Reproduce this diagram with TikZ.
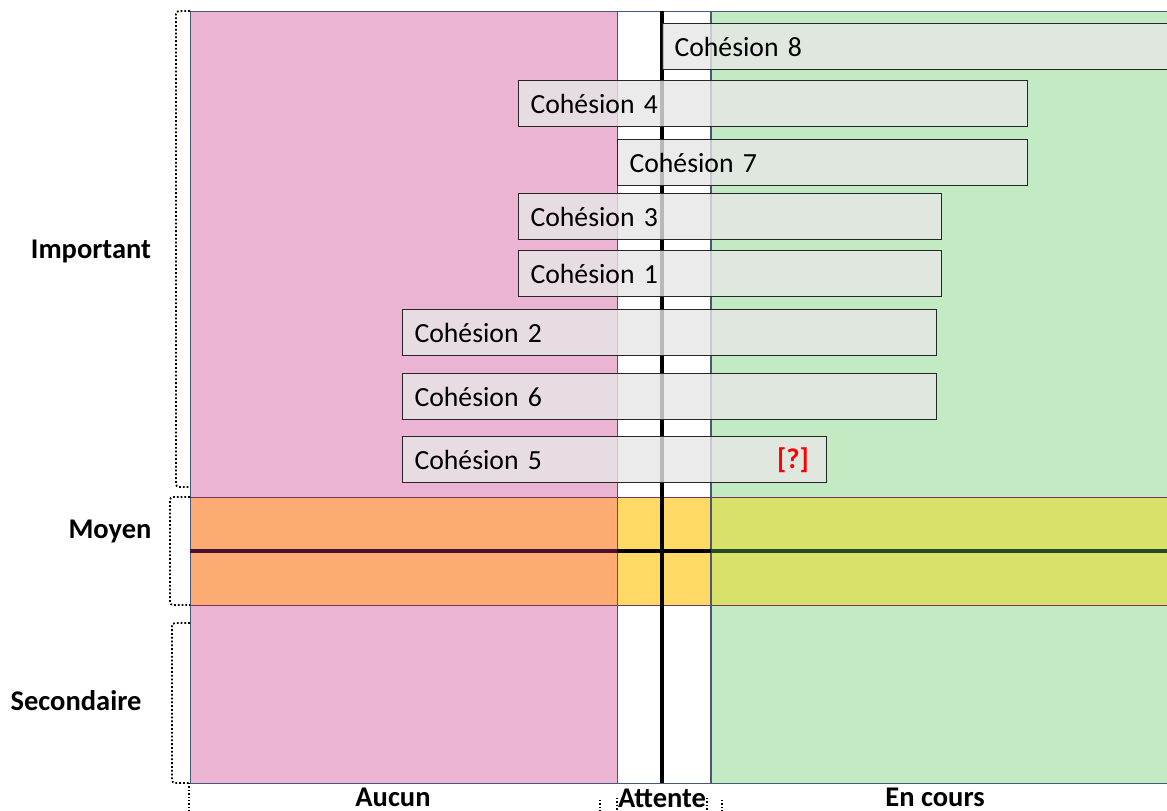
\documentclass[tikz,border=0pt]{standalone}
\usepackage{fontspec}
\setmainfont{Carlito}
\definecolor{cpink}{HTML}{EAB4D2}
\definecolor{cgreen}{HTML}{C3EBC3}
\definecolor{corange}{HTML}{FCAC72}
\definecolor{cyellow}{HTML}{FED966}
\definecolor{clime}{HTML}{D8E16A}
\definecolor{cedge}{HTML}{4A5878}
\definecolor{cpurple}{HTML}{4B0F2F}
\definecolor{cdgreen}{HTML}{234A23}
\definecolor{cbar}{HTML}{E6E6E6}
\begin{document}
\begin{tikzpicture}[x=1pt,y=-1pt,
  col/.style={draw=cedge, line width=0.8pt},
  band/.style={draw=cedge!60!purple, line width=0.8pt},
  bar/.style={draw=black!85, line width=1.1pt, fill=cbar, fill opacity=0.8, text opacity=1,
    anchor=north west, minimum height=46pt, inner xsep=12pt, inner ysep=0pt, align=left,
    font=\fontsize{27.7}{32}\selectfont},
  lab/.style={font=\bfseries\fontsize{28.5}{32}\selectfont, inner sep=0pt},
  brk/.style={dotted, line width=1.8pt, rounded corners=3pt}
]
\useasboundingbox (0,0) rectangle (1167,811);
% columns
\fill[cpink] (190,11) rectangle (617,783);
\fill[white] (617,11) rectangle (710,783);
\fill[cgreen] (711,11) rectangle (1170,783);
% moyen band
\fill[corange] (190,497) rectangle (617,605);
\fill[cyellow] (617,497) rectangle (710,605);
\fill[clime] (711,497) rectangle (1170,605);
\draw[band] (190,497) -- (1170,497);
\draw[band] (190,605) -- (1170,605);
\draw[col] (190,11) rectangle (617,783);
\draw[col] (617,11) rectangle (710,783);
\draw[col] (711,11) rectangle (1170,783);
% axes
\draw[line width=4pt, cpurple] (190,551) -- (617,551);
\draw[line width=4pt, black] (617,551) -- (711,551);
\draw[line width=4pt, cdgreen] (711,551) -- (1170,551);
\draw[line width=4pt, black] (662,11) -- (662,783);
% bars
\node[bar, text width=481pt] (c8) at (662,23) {Cohésion 8};
\node[bar, text width=485pt] (c4) at (518,80) {Cohésion 4};
\node[bar, text width=386pt] (c7) at (617,139) {Cohésion 7};
\node[bar, text width=399pt] (c3) at (518,193) {Cohésion 3};
\node[bar, text width=399pt] (c1) at (518,250) {Cohésion 1};
\node[bar, text width=510pt] (c2) at (402,309) {Cohésion 2};
\node[bar, text width=510pt] (c6) at (402,373) {Cohésion 6};
\node[bar, text width=400pt] (c5) at (402,436) {Cohésion 5};
\node[font=\bfseries\fontsize{28.5}{32}\selectfont, text=red, inner sep=0pt] (q) at (793,460) {[?]};
% labels
\node[lab] (imp) at (91,251) {Important};
\node[lab] (moy) at (110,531) {Moyen};
\node[lab] (sec) at (76,701) {Secondaire};
\node[lab] (auc) at (393,797) {Aucun};
\node[lab] (att) at (662,798) {Attente};
\node[lab] (enc) at (935,797) {En cours};
% brackets
\draw[brk] (190,11) -- (176,11) -- (176,487) -- (190,487);
\draw[brk] (190,497) -- (170,497) -- (170,605) -- (190,605);
\draw[brk] (190,623) -- (172,623) -- (172,783) -- (190,783);
\draw[dotted, line width=1.4pt] (189,783) -- (189,811);
\draw[dotted, line width=1.4pt] (600,800) -- (600,811);
\draw[dotted, line width=1.4pt] (617,798) -- (617,811);
\draw[dotted, line width=1.4pt] (707,798) -- (707,811);
\draw[dotted, line width=1.4pt] (722,800) -- (722,811);
\end{tikzpicture}
\end{document}
